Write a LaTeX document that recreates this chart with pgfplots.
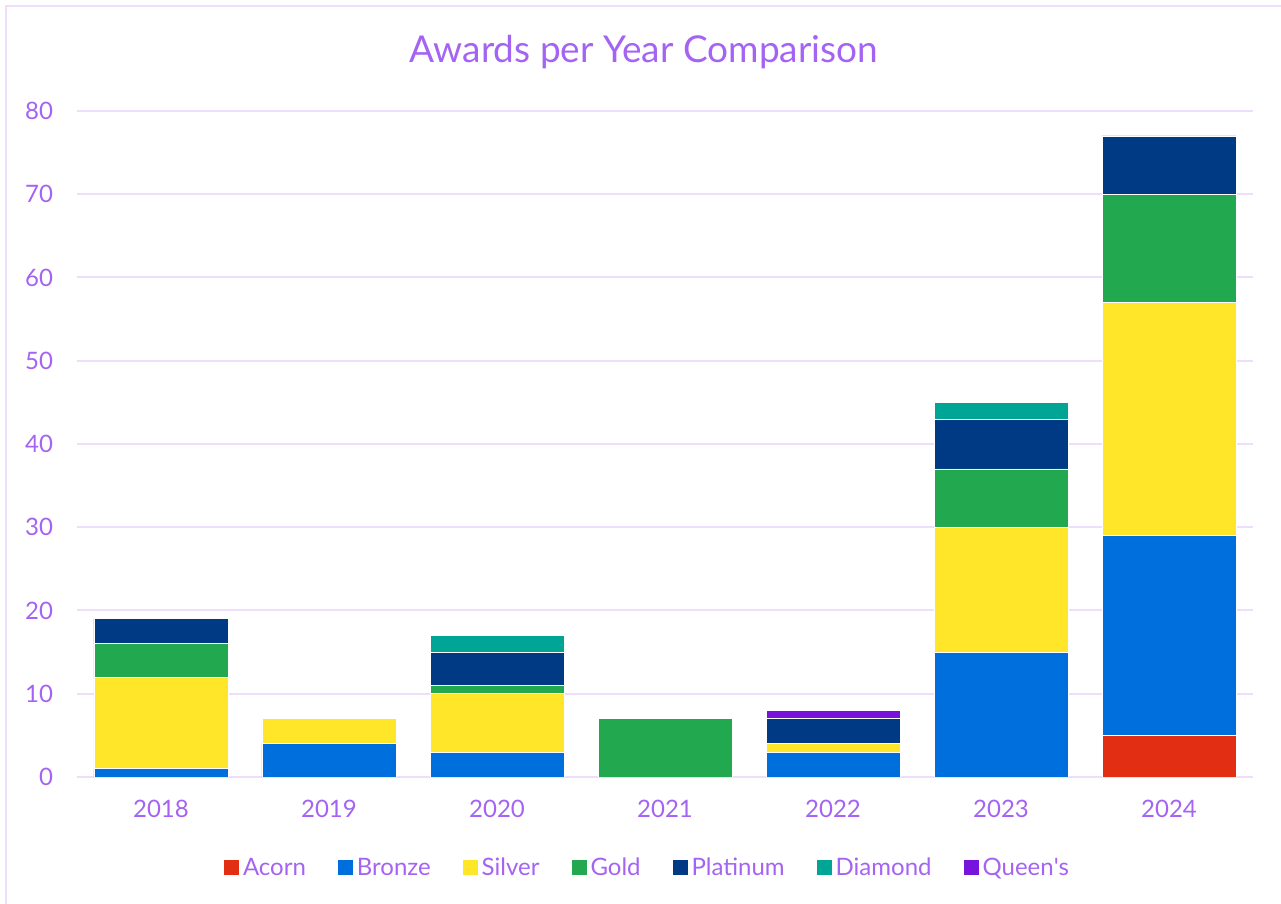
\documentclass[border=0pt]{standalone}
\usepackage{pgfplots}
\pgfplotsset{compat=1.18}
\usepackage{fontspec}
\setmainfont{Lato}
\definecolor{txt}{HTML}{A463F2}
\definecolor{gridc}{HTML}{EEDDFB}
\definecolor{cAcorn}{HTML}{E22F14}
\definecolor{cBronze}{HTML}{006FDE}
\definecolor{cSilver}{HTML}{FFE629}
\definecolor{cGold}{HTML}{22A84F}
\definecolor{cPlat}{HTML}{003A84}
\definecolor{cDiam}{HTML}{00A596}
\definecolor{cQueen}{HTML}{7614DC}
\begin{document}
\begin{tikzpicture}[x=1pt,y=1pt]
\begin{axis}[
  width=588pt, height=333pt, scale only axis,
  ybar stacked, bar width=67pt,
  xmin=-0.5, xmax=6.5, ymin=0, ymax=80,
  ytick={0,10,...,80},
  xtick={0,1,2,3,4,5,6},
  xticklabels={2018,2019,2020,2021,2022,2023,2024},
  ymajorgrids, grid style={gridc, line width=1pt},
  axis line style={draw=none},
  major tick length=0pt,
  tick label style={txt, font=\fontsize{12}{14}\selectfont},
  /pgf/number format/assume math mode=true,
  yticklabel style={xshift=-8.5pt},
  xticklabel style={yshift=-8pt},
  every axis plot/.append style={draw=white, line width=0.4pt},
  legend style={at={(0.486,-0.1366)}, anchor=center, draw=none, fill=none,
    legend columns=-1, font=\fontsize{12}{14}\selectfont, text=txt,
    /tikz/every even column/.append style={column sep=14pt},
    nodes={inner sep=2pt}},
  legend image code/.code={\fill[#1, draw=none] (-2pt,-3.75pt) rectangle (5.5pt,3.75pt);},
]
\addplot[fill=cAcorn] coordinates {(0,0) (1,0) (2,0) (3,0) (4,0) (5,0) (6,5)};
\addplot[fill=cBronze] coordinates {(0,1) (1,4) (2,3) (3,0) (4,3) (5,15) (6,24)};
\addplot[fill=cSilver] coordinates {(0,11) (1,3) (2,7) (3,0) (4,1) (5,15) (6,28)};
\addplot[fill=cGold] coordinates {(0,4) (1,0) (2,1) (3,7) (4,0) (5,7) (6,13)};
\addplot[fill=cPlat] coordinates {(0,3) (1,0) (2,4) (3,0) (4,3) (5,6) (6,7)};
\addplot[fill=cDiam] coordinates {(0,0) (1,0) (2,2) (3,0) (4,0) (5,2) (6,0)};
\addplot[fill=cQueen] coordinates {(0,0) (1,0) (2,0) (3,0) (4,1) (5,0) (6,0)};
\legend{Acorn,Bronze,Silver,Gold,Platinum,Diamond,Queen\textquotesingle s}
\coordinate (O) at (rel axis cs:0,0);
\end{axis}
\pgfresetboundingbox
\path[use as bounding box] ([shift={(-38.5,-63.5)}]O) rectangle ([shift={(602,388.5)}]O);
\draw[gridc, line width=1pt] ([shift={(-35.3,-90)}]O) -- ([shift={(-35.3,385.3)}]O) -- ([shift={(620,385.3)}]O);
\node[txt, font=\fontsize{18.5}{22}\selectfont] at ([shift={(283.5,362.5)}]O) {Awards per Year Comparison};
\end{tikzpicture}
\end{document}
